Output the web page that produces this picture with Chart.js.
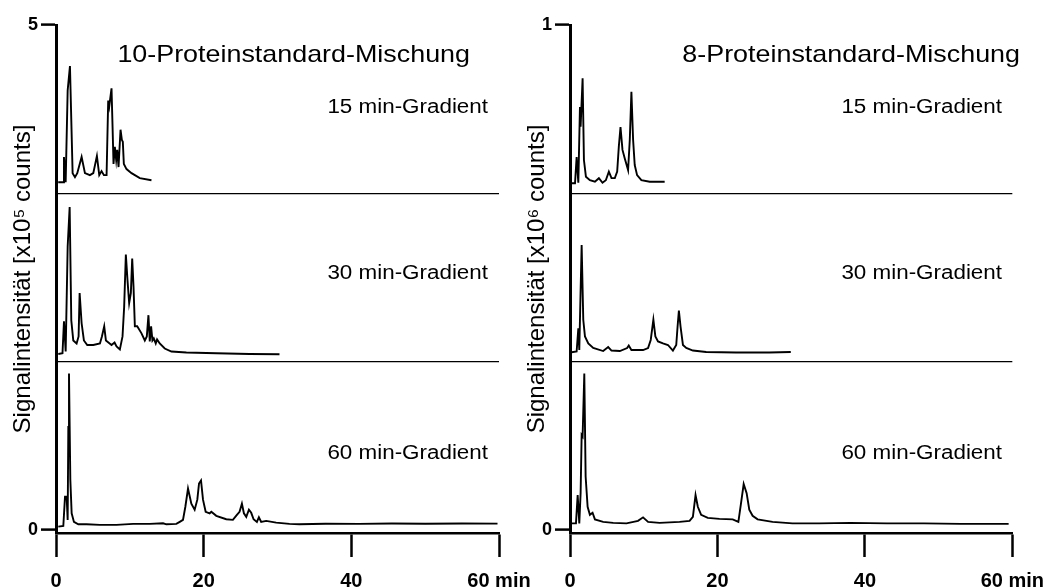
<!DOCTYPE html>
<html>
<head>
<meta charset="utf-8">
<script src="https://cdn.jsdelivr.net/npm/chart.js@4.4.0/dist/chart.umd.min.js"></script>
<style>
  html, body { margin: 0; padding: 0; background: #fff; }
  body { width: 1056px; height: 588px; position: relative; overflow: hidden; }
  .panel { position: absolute; top: 0; }
  #left { left: 0; }
  #right { left: 514px; }
</style>
</head>
<body>
<div class="panel" id="left"><canvas id="chart-left" width="560" height="588"></canvas></div>
<div class="panel" id="right"><canvas id="chart-right" width="542" height="588"></canvas></div>
<script>
const timeTicks = [0, 20, 40, 60];
const leftTicks = [0, 5 / 3, 10 / 3, 5];   // only 0 and 5 labelled, the middle two are the separators
const rightTicks = [0, 1 / 3, 2 / 3, 1];

// 10-Proteinstandard-Mischung, x10^5 counts above each trace's own baseline
const tMix10_15 = [0.3, 1.0, 1.08, 1.31, 1.58, 1.89, 2.25, 2.57, 2.88, 3.47, 3.92, 4.59, 5.05, 5.54, 5.86, 6.17, 6.49, 6.85, 7.07, 7.21, 7.52, 7.66, 7.79, 7.97, 8.15, 8.29, 8.47, 8.74, 8.92, 9.05, 9.19, 9.55, 10.23, 11.35, 12.93];
const sMix10_15 = [0.11, 0.11, 0.36, 0.11, 1.02, 1.26, 0.2, 0.16, 0.2, 0.36, 0.2, 0.18, 0.2, 0.37, 0.18, 0.22, 0.18, 0.18, 0.92, 0.86, 1.04, 0.66, 0.29, 0.46, 0.33, 0.43, 0.26, 0.63, 0.53, 0.51, 0.29, 0.24, 0.2, 0.15, 0.13];

const tMix10_30 = [0.31, 0.88, 1.08, 1.31, 1.58, 1.85, 2.07, 2.34, 2.79, 3.06, 3.2, 3.47, 3.78, 4.23, 5.05, 5.95, 6.22, 6.53, 6.76, 7.52, 7.93, 8.2, 8.65, 9.01, 9.23, 9.46, 9.68, 9.91, 10.14, 10.32, 10.5, 10.68, 11.0, 11.58, 12.03, 12.3, 12.52, 12.7, 12.88, 13.06, 13.24, 13.51, 13.69, 14.05, 14.73, 15.63, 17.66, 21.72, 26.22, 30.27];
const sMix10_30 = [0.076, 0.083, 0.4, 0.1, 1.14, 1.53, 0.41, 0.21, 0.18, 0.25, 0.68, 0.38, 0.21, 0.165, 0.165, 0.18, 0.25, 0.35, 0.21, 0.165, 0.19, 0.15, 0.12, 0.25, 0.54, 1.06, 0.81, 0.58, 0.68, 1.02, 0.74, 0.35, 0.35, 0.28, 0.21, 0.25, 0.46, 0.2, 0.35, 0.21, 0.23, 0.18, 0.22, 0.18, 0.13, 0.1, 0.09, 0.083, 0.076, 0.073];

const tMix10_60 = [0.31, 0.99, 1.22, 1.44, 1.58, 1.67, 1.76, 1.94, 2.12, 2.43, 3.02, 4.14, 5.95, 8.2, 10.45, 12.7, 14.5, 14.95, 16.3, 16.76, 17.2, 17.52, 17.88, 18.33, 18.78, 19.14, 19.37, 19.64, 19.91, 20.27, 20.81, 21.04, 21.71, 23.06, 23.96, 24.5, 24.86, 25.18, 25.45, 25.77, 26.13, 26.44, 26.76, 27.21, 27.48, 27.79, 28.47, 29.82, 31.62, 32.97, 36.5, 41.0, 45.5, 50.0, 55.0, 59.8];
const sMix10_60 = [0.033, 0.04, 0.33, 0.33, 0.1, 1.02, 1.55, 0.5, 0.165, 0.08, 0.056, 0.056, 0.05, 0.05, 0.06, 0.06, 0.066, 0.056, 0.06, 0.08, 0.1, 0.23, 0.41, 0.26, 0.2, 0.3, 0.46, 0.49, 0.3, 0.18, 0.165, 0.18, 0.14, 0.106, 0.1, 0.15, 0.18, 0.26, 0.165, 0.13, 0.2, 0.17, 0.106, 0.08, 0.126, 0.08, 0.09, 0.073, 0.06, 0.056, 0.062, 0.06, 0.064, 0.062, 0.064, 0.063];

// 8-Proteinstandard-Mischung, x10^6 counts above each trace's own baseline
const tMix8_15 = [0.23, 0.68, 0.9, 1.13, 1.35, 1.44, 1.71, 1.89, 2.16, 2.7, 3.38, 3.92, 4.41, 4.86, 5.27, 5.63, 6.08, 6.4, 6.62, 6.85, 7.12, 7.43, 7.88, 8.11, 8.33, 8.56, 8.78, 9.1, 9.68, 10.81, 12.84];
const sMix8_15 = [0.02, 0.02, 0.072, 0.021, 0.171, 0.132, 0.228, 0.066, 0.033, 0.026, 0.023, 0.03, 0.021, 0.026, 0.043, 0.03, 0.03, 0.043, 0.092, 0.131, 0.086, 0.069, 0.046, 0.106, 0.201, 0.106, 0.056, 0.036, 0.026, 0.023, 0.023];

const tMix8_30 = [0.0, 0.9, 1.13, 1.26, 1.44, 1.58, 1.8, 2.03, 2.48, 3.15, 4.5, 5.18, 5.63, 6.76, 7.75, 7.97, 8.33, 9.91, 10.59, 10.95, 11.31, 11.58, 11.94, 12.61, 13.29, 13.96, 14.41, 14.59, 14.77, 15.0, 15.32, 15.77, 16.67, 18.47, 22.52, 27.03, 29.95];
const sMix8_30 = [0.018, 0.02, 0.066, 0.023, 0.142, 0.231, 0.083, 0.05, 0.036, 0.027, 0.021, 0.029, 0.022, 0.021, 0.027, 0.032, 0.023, 0.023, 0.027, 0.043, 0.083, 0.05, 0.04, 0.036, 0.033, 0.022, 0.033, 0.069, 0.101, 0.069, 0.033, 0.027, 0.022, 0.019, 0.018, 0.018, 0.019];

const tMix8_60 = [0.23, 0.81, 1.04, 1.26, 1.44, 1.58, 1.71, 1.94, 2.12, 2.39, 2.7, 3.06, 3.38, 4.5, 5.86, 7.66, 9.23, 9.91, 10.59, 12.16, 14.86, 16.22, 16.67, 17.03, 17.34, 17.79, 18.69, 20.27, 22.07, 22.84, 23.2, 23.56, 23.96, 24.32, 24.77, 25.45, 27.48, 30.18, 33.78, 38.0, 43.0, 48.0, 53.0, 59.5];
const sMix8_60 = [0.013, 0.013, 0.069, 0.013, 0.073, 0.188, 0.185, 0.31, 0.106, 0.046, 0.03, 0.034, 0.021, 0.016, 0.014, 0.013, 0.018, 0.025, 0.016, 0.014, 0.016, 0.018, 0.026, 0.069, 0.046, 0.03, 0.024, 0.022, 0.021, 0.016, 0.053, 0.091, 0.073, 0.04, 0.028, 0.021, 0.016, 0.013, 0.013, 0.014, 0.013, 0.013, 0.012, 0.012];

const fontFamily = '"Liberation Sans", Arial, Helvetica, sans-serif';
Chart.defaults.font.family = fontFamily;
Chart.defaults.color = '#000';

function trace(times, values, offset) {
  return {
    data: times.map((t, i) => ({ x: t, y: values[i] + offset })),
    borderColor: '#000',
    borderWidth: 1.9,
    pointRadius: 0,
    tension: 0,
    fill: false
  };
}

// titles and gradient labels, drawn a bit wider like the original figure
const panelText = {
  id: 'panelText',
  afterDraw(chart, args, opts) {
    const ctx = chart.ctx;
    opts.items.forEach(it => {
      ctx.save();
      ctx.fillStyle = '#000';
      ctx.textAlign = 'right';
      ctx.textBaseline = 'alphabetic';
      ctx.font = it.size + 'px ' + fontFamily;
      ctx.translate(it.x, it.y);
      ctx.scale(1.12, 1);
      ctx.fillText(it.text, 0, 0);
      ctx.restore();
    });
  }
};

function makeChart(id, datasets, yMin, yMax, yTicks, yTitle, items, padRight) {
  const last = yTicks.length - 1;
  const isSep = i => i > 0 && i < last;
  return new Chart(document.getElementById(id), {
    type: 'line',
    data: { datasets },
    options: {
      responsive: false,
      animation: false,
      layout: { padding: { top: 25, right: padRight, bottom: 0, left: 0 } },
      plugins: {
        legend: { display: false },
        tooltip: { enabled: false },
        panelText: { items }
      },
      scales: {
        x: {
          type: 'linear',
          min: 0,
          max: 60,
          afterBuildTicks: s => { s.ticks = timeTicks.map(v => ({ value: v })); },
          afterFit: s => { s.height = 55; },
          border: { color: '#000', width: 2.5 },
          grid: { drawOnChartArea: false, tickLength: 24, tickColor: '#000', tickWidth: 2.5 },
          ticks: {
            color: '#000',
            padding: 12,
            maxRotation: 0,
            font: { size: 20, weight: 'bold' },
            callback: v => v === 60 ? '60 min' : String(v)
          }
        },
        y: {
          min: yMin,
          max: yMax,
          afterBuildTicks: s => { s.ticks = yTicks.map(v => ({ value: v })); },
          afterFit: s => { s.width = 56; },
          border: { color: '#000', width: 3 },
          grid: {
            color: c => isSep(c.index) ? '#000' : 'rgba(0,0,0,0)',
            lineWidth: 1.2,
            tickLength: 15,
            tickColor: c => isSep(c.index) ? 'rgba(0,0,0,0)' : '#000',
            tickWidth: 2.5
          },
          ticks: {
            color: '#000',
            padding: 3,
            font: { size: 18, weight: 'bold' },
            callback: (v, i) => isSep(i) ? '' : String(Math.round(v))
          },
          title: {
            display: true,
            text: yTitle,
            color: '#000',
            font: { size: 24 },
            padding: { top: 9, bottom: 0 }
          }
        }
      }
    },
    plugins: [panelText]
  });
}

makeChart('chart-left', [
  trace(tMix10_60, sMix10_60, 0),
  trace(tMix10_30, sMix10_30, 5 / 3),
  trace(tMix10_15, sMix10_15, 10 / 3)
], -0.03, 5, leftTicks, 'Signalintensität [x10⁵ counts]', [
  { text: '10-Proteinstandard-Mischung', x: 470, y: 62, size: 24 },
  { text: '15 min-Gradient', x: 488, y: 113, size: 20 },
  { text: '30 min-Gradient', x: 488, y: 279, size: 20 },
  { text: '60 min-Gradient', x: 488, y: 459, size: 20 }
], 61);

makeChart('chart-right', [
  trace(tMix8_60, sMix8_60, 0),
  trace(tMix8_30, sMix8_30, 1 / 3),
  trace(tMix8_15, sMix8_15, 2 / 3)
], -0.006, 1, rightTicks, 'Signalintensität [x10⁶ counts]', [
  { text: '8-Proteinstandard-Mischung', x: 506, y: 62, size: 24 },
  { text: '15 min-Gradient', x: 488, y: 113, size: 20 },
  { text: '30 min-Gradient', x: 488, y: 279, size: 20 },
  { text: '60 min-Gradient', x: 488, y: 459, size: 20 }
], 43);
</script>
</body>
</html>
